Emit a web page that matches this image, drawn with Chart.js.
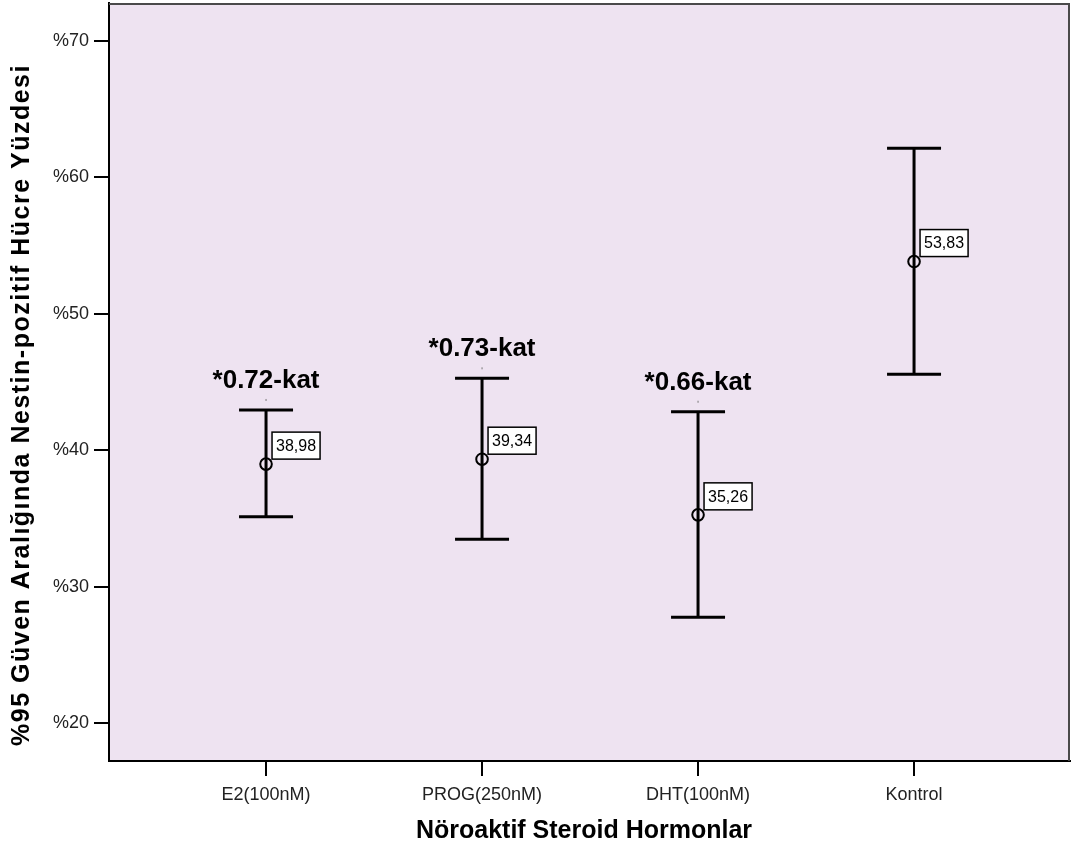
<!DOCTYPE html>
<html>
<head>
<meta charset="utf-8">
<script src="https://cdn.jsdelivr.net/npm/chart.js@4.4.1/dist/chart.umd.min.js"></script>
<style>
  html, body { margin: 0; padding: 0; background: #ffffff; }
  #wrap { width: 1072px; height: 853px; position: relative; }
</style>
</head>
<body>
<div id="wrap"><canvas id="c" width="1072" height="853"></canvas></div>
<script>
// ---- data ----
const categories = ['E2(100nM)', 'PROG(250nM)', 'DHT(100nM)', 'Kontrol'];
const means = [38.98, 39.34, 35.26, 53.83];
const upperCI = [42.95, 45.27, 42.82, 62.13];
const lowerCI = [35.13, 33.47, 27.75, 45.56];
const meanLabels = ['38,98', '39,34', '35,26', '53,83'];
const foldLabels = ['*0.72-kat', '*0.73-kat', '*0.66-kat', ''];
const yTicks = [20, 30, 40, 50, 60, 70];
const xTitle = 'Nöroaktif Steroid Hormonlar';
const yTitle = '%95 Güven Aralığında Nestin-pozitif Hücre Yüzdesi';

const FONT = 'Arial, "Liberation Sans", Helvetica, sans-serif';
const TARGET = { left: 109, top: 3, right: 1070, bottom: 761 };

const points = means.map((m, i) => ({ x: i, y: m }));

const plotBg = {
  id: 'plotBg',
  beforeDraw(chart) {
    const { ctx, chartArea: a } = chart;
    ctx.save();
    ctx.fillStyle = '#EEE3F1';
    ctx.fillRect(a.left, a.top, a.right - a.left, a.bottom - a.top);
    ctx.restore();
  },
  afterDraw(chart) {
    const { ctx, chartArea: a } = chart;
    ctx.save();
    ctx.strokeStyle = '#4a4a4a';
    ctx.lineWidth = 2;
    ctx.beginPath();
    ctx.moveTo(a.left, a.top + 1);
    ctx.lineTo(a.right - 1, a.top + 1);
    ctx.lineTo(a.right - 1, a.bottom);
    ctx.stroke();
    // axis titles
    ctx.fillStyle = '#000';
    ctx.textAlign = 'center';
    ctx.textBaseline = 'middle';
    ctx.font = 'bold 25px ' + FONT;
    ctx.fillText(xTitle, 584, 831);
    ctx.translate(22, 405);
    ctx.rotate(-Math.PI / 2);
    if ('letterSpacing' in ctx) ctx.letterSpacing = '1.5px';
    ctx.fillText(yTitle, 0, 0);
    ctx.restore();
  }
};

const errorBars = {
  id: 'errorBars',
  beforeDatasetsDraw(chart) {
    const { ctx, scales: { x, y } } = chart;
    ctx.save();
    ctx.strokeStyle = '#000';
    ctx.lineWidth = 3;
    ctx.lineCap = 'butt';
    const half = 27;
    categories.forEach((c, i) => {
      const px = x.getPixelForValue(i);
      const yt = y.getPixelForValue(upperCI[i]);
      const yb = y.getPixelForValue(lowerCI[i]);
      ctx.beginPath();
      ctx.moveTo(px, yt); ctx.lineTo(px, yb);
      ctx.moveTo(px - half, yt); ctx.lineTo(px + half, yt);
      ctx.moveTo(px - half, yb); ctx.lineTo(px + half, yb);
      ctx.stroke();
    });
    ctx.restore();
  },
  afterDatasetsDraw(chart) {
    const { ctx, scales: { x, y } } = chart;
    ctx.save();
    categories.forEach((c, i) => {
      const px = x.getPixelForValue(i);
      const pm = y.getPixelForValue(means[i]);
      const yt = y.getPixelForValue(upperCI[i]);
      ctx.font = '16px ' + FONT;
      const tw = ctx.measureText(meanLabels[i]).width;
      const bw = tw + 8, bh = 27;
      const bx = px + 6, by = pm - 5 - bh;
      ctx.fillStyle = '#fff';
      ctx.fillRect(bx, by, bw, bh);
      ctx.strokeStyle = '#000';
      ctx.lineWidth = 1.5;
      ctx.strokeRect(bx, by, bw, bh);
      ctx.fillStyle = '#000';
      ctx.textAlign = 'center';
      ctx.textBaseline = 'middle';
      ctx.fillText(meanLabels[i], bx + bw / 2, by + bh / 2 + 1);
      if (foldLabels[i]) {
        ctx.font = 'bold 26px ' + FONT;
        ctx.fillStyle = '#000';
        ctx.textAlign = 'center';
        ctx.textBaseline = 'middle';
        ctx.fillText(foldLabels[i], px, yt - 29);
        ctx.fillStyle = '#777';
        ctx.fillRect(px - 0.5, yt - 11, 1, 2);
      }
    });
    ctx.restore();
  }
};

const chart = new Chart(document.getElementById('c'), {
  type: 'scatter',
  data: {
    datasets: [{
      data: points,
      pointStyle: 'circle',
      pointRadius: 5.8,
      pointHoverRadius: 5.8,
      pointBorderWidth: 2,
      pointBorderColor: '#000',
      pointBackgroundColor: 'rgba(0,0,0,0)'
    }]
  },
  options: {
    responsive: false,
    animation: false,
    devicePixelRatio: 1,
    layout: { autoPadding: false, padding: { top: 3, right: 2, left: 0, bottom: 0 } },
    plugins: { legend: { display: false }, tooltip: { enabled: false } },
    scales: {
      x: {
        type: 'linear',
        min: -0.727,
        max: 3.722,
        afterFit(s) { s.height = 92; s.paddingLeft = 0; s.paddingRight = 0; },
        afterBuildTicks(s) { s.ticks = categories.map((c, i) => ({ value: i })); },
        ticks: {
          callback: (v) => categories[v],
          color: '#222',
          font: { family: FONT, size: 18 },
          padding: 8,
          maxRotation: 0,
          autoSkip: false
        },
        grid: { display: true, drawOnChartArea: false, drawTicks: true, tickLength: 15, color: '#000', lineWidth: 2 },
        border: { display: true, color: '#000', width: 2 },
        title: { display: false }
      },
      y: {
        type: 'linear',
        min: 17.214,
        max: 72.786,
        afterFit(s) { s.width = 109; s.paddingTop = 0; s.paddingBottom = 0; },
        afterBuildTicks(s) { s.ticks = yTicks.map(v => ({ value: v })); },
        ticks: {
          callback: (v) => '%' + v,
          color: '#222',
          font: { family: FONT, size: 18 },
          padding: 5
        },
        grid: { display: true, drawOnChartArea: false, drawTicks: true, tickLength: 15, color: '#000', lineWidth: 2 },
        border: { display: true, color: '#000', width: 2 },
        title: { display: false }
      }
    }
  },
  plugins: [plotBg, errorBars]
});

// nudge layout so the plot frame lands where the reference has it
(function fitArea() {
  const a = chart.chartArea;
  const p = chart.options.layout.padding;
  const dt = TARGET.top - a.top, dr = a.right - TARGET.right, db = a.bottom - TARGET.bottom;
  if (Math.abs(dt) > 0.3 || Math.abs(dr) > 0.3 || Math.abs(db) > 0.3) {
    p.top += dt; p.right += dr; p.bottom += db;
    chart.update();
  }
})();
</script>
</body>
</html>
